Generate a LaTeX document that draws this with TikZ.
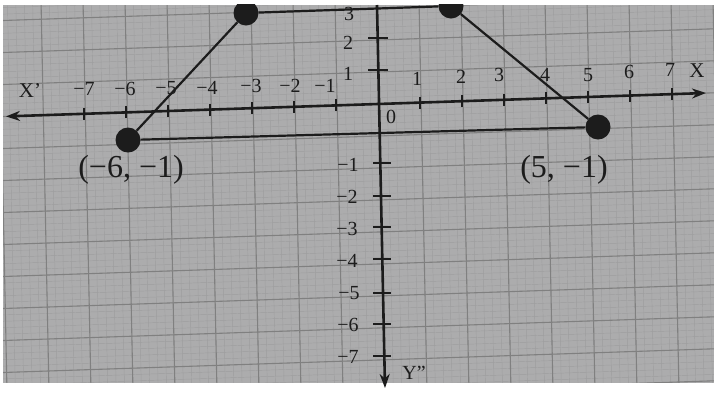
\documentclass[tikz,border=0pt]{standalone}
\usepackage{fontspec}
\setmainfont{Liberation Serif}
\usetikzlibrary{arrows.meta}
\definecolor{paper}{RGB}{172,172,173}
\definecolor{majgrid}{RGB}{128,128,128}
\definecolor{mingrid}{RGB}{158,158,159}
\definecolor{ink}{RGB}{28,28,28}
\begin{document}
\begin{tikzpicture}[x=1pt,y=-1pt,
  majline/.style={draw=majgrid,line width=1.1pt},
  minline/.style={draw=mingrid,line width=0.45pt},
  axisline/.style={draw=ink,line width=2.6pt,-{Stealth[length=14pt,width=10pt]}},
  edgeline/.style={draw=ink,line width=2.2pt},
  tickline/.style={draw=ink,line width=1.4pt},
  dot/.style={circle,fill=ink,inner sep=0pt,minimum size=25pt},
  ticklab/.style={text=ink,font=\fontsize{20}{20}\selectfont,inner sep=0pt},
  ptlab/.style={text=ink,font=\fontsize{32}{32}\selectfont,inner sep=0pt}]
\useasboundingbox (0,0) rectangle (714,392);
\fill[white] (0,0) rectangle (714,392);
\begin{scope}
\clip (3,5) rectangle (714,382);
\fill[paper] (0,0) rectangle (714,392);
% minor grid
\foreach \k in {-45,...,42} \draw[minline] ({377+8.4*\k},0) -- ({385+8.4*\k},392);
\foreach \k in {-20,...,50} \draw[minline] (0,{104+6.4*\k+12.6}) -- (714,{104+6.4*\k-11.2});
% major grid
\foreach \k in {-9,...,8} \draw[majline] ({377+42*\k},0) -- ({385+42*\k},392);
\foreach \k in {-4,...,10} \draw[majline] (0,{104+32*\k+12.6}) -- (714,{104+32*\k-11.2});
\end{scope}
% axes
\coordinate (o) at (378,104);
\coordinate (xl) at (6,116.4);
\coordinate (xr) at (706,93);
\coordinate (yt) at (377,5);
\coordinate (yb) at (385,388);
\draw[axisline] (o) -- (xl);
\draw[axisline] (o) -- (xr);
\draw[axisline] (yt) -- (yb);
% x ticks
\foreach \k in {-7,...,-1,1,2,...,7}
  \draw[tickline] ({378+42*\k},{104-0.0333*42*\k-6}) -- ({378+42*\k},{104-0.0333*42*\k+6});
% y ticks
\foreach \yy in {38,70} \draw[tickline] (368,\yy) -- (388,\yy);
\foreach \yy in {163,196,227,259,293,324,356} \draw[tickline] (373,\yy) -- (391,\yy);
% x labels
\node[ticklab] (xm7) at (84,89) {−7};
\node[ticklab] (xm6) at (125,89) {−6};
\node[ticklab] (xm5) at (166,88) {−5};
\node[ticklab] (xm4) at (207,88) {−4};
\node[ticklab] (xm3) at (251,86) {−3};
\node[ticklab] (xm2) at (290,86) {−2};
\node[ticklab] (xm1) at (325,86) {−1};
\node[ticklab] (xp1) at (417,79) {1};
\node[ticklab] (xp2) at (461,77) {2};
\node[ticklab] (xp3) at (499,75) {3};
\node[ticklab] (xp4) at (545,75) {4};
\node[ticklab] (xp5) at (588,75) {5};
\node[ticklab] (xp6) at (629,72) {6};
\node[ticklab] (xp7) at (670,70) {7};
\node[ticklab,font=\fontsize{21}{21}\selectfont] (xlab) at (697,71) {X};
\node[ticklab,font=\fontsize{21}{21}\selectfont] (xplab) at (30,91) {X’};
\node[ticklab] (zero) at (391,117) {0};
% y labels
\node[ticklab] (yp3) at (349,14) {3};
\node[ticklab] (yp2) at (348,43) {2};
\node[ticklab] (yp1) at (348,74) {1};
\node[ticklab] (ym1) at (348,165) {−1};
\node[ticklab] (ym2) at (347,197) {−2};
\node[ticklab] (ym3) at (347,229) {−3};
\node[ticklab] (ym4) at (347,261) {−4};
\node[ticklab] (ym5) at (349,293) {−5};
\node[ticklab] (ym6) at (348,325) {−6};
\node[ticklab] (ym7) at (348,357) {−7};
\node[ticklab,font=\fontsize{20}{20}\selectfont] (ylab) at (414,373) {Y”};
% trapezium
\node[dot] (A) at (128,140) {};
\node[dot] (B) at (598,127) {};
\node[dot] (C) at (451,6) {};
\node[dot] (D) at (246,13) {};
\draw[edgeline] (A) -- (B);
\draw[edgeline] (B) -- (C);
\draw[edgeline] (C) -- (D);
\draw[edgeline] (D) -- (A);
\node[ptlab] (lA) at (131,170) {(−6, −1)};
\node[ptlab] (lB) at (564,170) {(5, −1)};
% scan margin at the top
\fill[white] (0,0) rectangle (714,4);
\end{tikzpicture}
\end{document}
